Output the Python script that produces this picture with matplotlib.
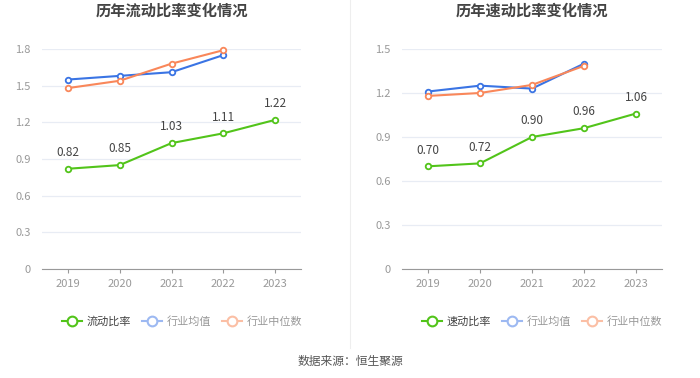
import matplotlib.pyplot as plt
import numpy as np
from matplotlib.lines import Line2D

plt.rcParams['font.family'] = ['Noto Sans CJK SC', 'DejaVu Sans']

years = ['2019', '2020', '2021', '2022', '2023']

# current ratio
current_ratio = [0.82, 0.85, 1.03, 1.11, 1.22]
current_avg = [1.55, 1.58, 1.61, 1.75]
current_median = [1.48, 1.54, 1.68, 1.79]

# quick ratio
quick_ratio = [0.70, 0.72, 0.90, 0.96, 1.06]
quick_avg = [1.21, 1.25, 1.23, 1.40]
quick_median = [1.18, 1.20, 1.255, 1.385]

green = '#52c41a'
blue = '#3a74e4'
orange = '#f9875a'

fig = plt.figure(figsize=(7, 3.78), dpi=100)


def draw(ax, main, avg, med, yticks, title, name):
    x = np.arange(len(years))
    ax.plot(x[:len(avg)], avg, color=blue, lw=1.5, marker='o', ms=4,
            mfc='white', mec=blue, mew=1.3, zorder=3, clip_on=False)
    ax.plot(x[:len(med)], med, color=orange, lw=1.5, marker='o', ms=4,
            mfc='white', mec=orange, mew=1.3, zorder=3, clip_on=False)
    ax.plot(x, main, color=green, lw=1.5, marker='o', ms=4,
            mfc='white', mec=green, mew=1.3, zorder=4, clip_on=False)
    for xi, v in zip(x, main):
        ax.annotate(f'{v:.2f}', (xi, v), xytext=(0, 7), textcoords='offset points',
                    ha='center', va='bottom', fontsize=8.5, color='#444444')
    ax.set_xlim(-0.5, len(years) - 0.5)
    ax.set_ylim(0, yticks[-1])
    ax.set_yticks(yticks)
    ax.set_yticklabels([f'{t:g}' if t != 0 else '0' for t in yticks])
    ax.set_xticks(x)
    ax.set_xticklabels(years)
    ax.tick_params(axis='y', length=0, labelsize=8, colors='#999999', pad=8)
    ax.tick_params(axis='x', length=3, width=0.8, color='#999999', labelsize=8,
                   labelcolor='#999999', pad=4)
    ax.grid(axis='y', color='#e8ecf4', lw=0.9)
    ax.set_axisbelow(True)
    for s in ['top', 'right', 'left']:
        ax.spines[s].set_visible(False)
    ax.spines['bottom'].set_color('#999999')
    ax.set_title(title, fontsize=11, fontweight='bold', color='#444444', pad=24)

    handles = [
        Line2D([], [], color=green, lw=1.5, marker='o', ms=7, mfc='white', mec=green, mew=1.5),
        Line2D([], [], color='#9db9f2', lw=1.5, marker='o', ms=7, mfc='white', mec='#9db9f2', mew=1.5),
        Line2D([], [], color='#fbbfa5', lw=1.5, marker='o', ms=7, mfc='white', mec='#fbbfa5', mew=1.5),
    ]
    leg = ax.legend(handles, [name, '行业均值', '行业中位数'], loc='upper center',
                    bbox_to_anchor=(0.54, -0.17), ncol=3, frameon=False, fontsize=8,
                    handlelength=1.8, handletextpad=0.4, columnspacing=1.0)
    cols = ['#444444', '#999999', '#999999']
    for t, c in zip(leg.get_texts(), cols):
        t.set_color(c)


ax1 = fig.add_axes([0.06, 0.2884, 0.37, 0.582])
draw(ax1, current_ratio, current_avg, current_median,
     [0, 0.3, 0.6, 0.9, 1.2, 1.5, 1.8], '历年流动比率变化情况', '流动比率')

ax2 = fig.add_axes([0.5743, 0.2884, 0.3714, 0.582])
draw(ax2, quick_ratio, quick_avg, quick_median,
     [0, 0.3, 0.6, 0.9, 1.2, 1.5], '历年速动比率变化情况', '速动比率')

fig.add_artist(Line2D([0.5, 0.5], [0.08, 1.0], color='#eeeeee', lw=0.8))
fig.text(0.5, 0.045, '数据来源：恒生聚源', ha='center', va='center', fontsize=8.5, color='#555555')

fig.savefig('out.png', dpi=100)
